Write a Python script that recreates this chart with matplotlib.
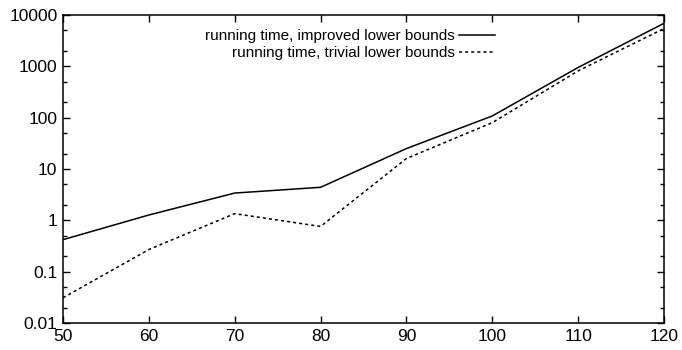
import matplotlib
matplotlib.use("Agg")
import matplotlib.pyplot as plt
from matplotlib.ticker import LogLocator, FixedLocator, NullFormatter

plt.rcParams['font.family'] = ['Liberation Sans', 'DejaVu Sans']

# --- data ---
sizes = [50, 60, 70, 80, 90, 100, 110, 120]
time_improved = [0.42, 1.27, 3.4, 4.4, 25, 108, 950, 6900]
time_trivial = [0.031, 0.27, 1.35, 0.76, 16, 80, 815, 5450]
label_improved = "running time, improved lower bounds"
label_trivial = "running time, trivial lower bounds"
x_ticks = [50, 60, 70, 80, 90, 100, 110, 120]
y_ticks = [0.01, 0.1, 1, 10, 100, 1000, 10000]
y_ticklabels = ["0.01", "0.1", "1", "10", "100", "1000", "10000"]

fig = plt.figure(figsize=(6.82, 3.5), dpi=100)
ax = fig.add_axes([63/682, 27/350, 601/682, 308/350])

ax.plot(sizes, time_improved, color="black", lw=1.1, label=label_improved)
ax.plot(sizes, time_trivial, color="black", lw=1.1, dashes=(2, 2), label=label_trivial)

ax.set_yscale("log")
ax.set_xlim(50, 120)
ax.set_ylim(0.01, 10000)

ax.xaxis.set_major_locator(FixedLocator(x_ticks))
ax.set_xticklabels([str(v) for v in x_ticks])
ax.yaxis.set_major_locator(FixedLocator(y_ticks))
ax.set_yticklabels(y_ticklabels)
ax.yaxis.set_minor_locator(LogLocator(base=10, subs=(2, 5)))
ax.yaxis.set_minor_formatter(NullFormatter())

ax.tick_params(which="both", direction="in", top=True, right=True, labelsize=12.5, pad=4)
ax.tick_params(which="major", length=5, width=1)
ax.tick_params(which="minor", length=3, width=1)
for s in ax.spines.values():
    s.set_linewidth(1.1)

leg = ax.legend(loc="upper right", bbox_to_anchor=(495/682, 1 - 29/350),
                bbox_transform=fig.transFigure, frameon=False, markerfirst=False,
                fontsize=11, handlelength=2.35, handletextpad=0.26,
                labelspacing=0.19, borderpad=0, borderaxespad=0)

fig.savefig("out.png", dpi=100)
